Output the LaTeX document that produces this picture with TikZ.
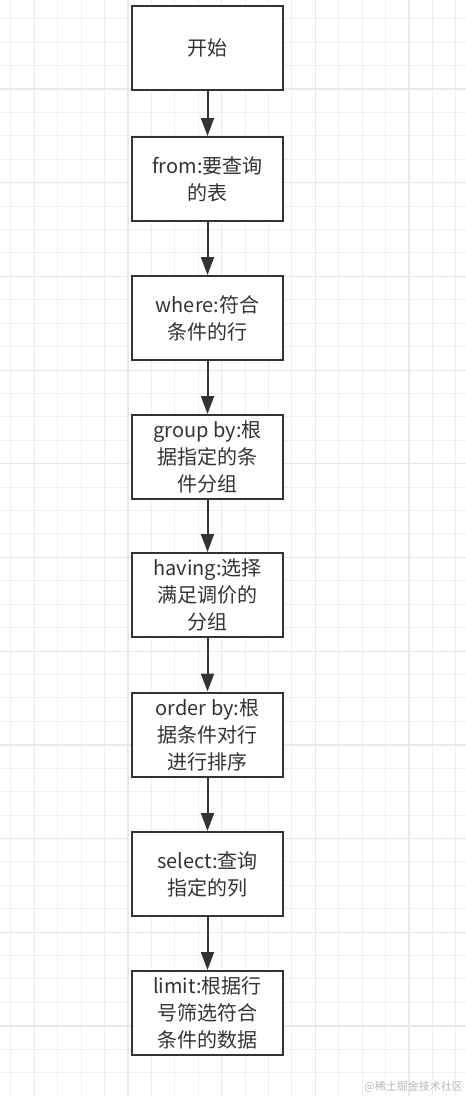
\documentclass[tikz,border=0pt]{standalone}
\usepackage{fontspec}
\setmainfont{Noto Sans CJK SC}
\usetikzlibrary{arrows.meta}
\definecolor{ink}{HTML}{333333}
\definecolor{gridminor}{HTML}{EFEFEF}
\definecolor{gridmajor}{HTML}{E9E9E9}
\definecolor{wm}{HTML}{B8B8B8}
\tikzset{
  stepbox/.style={draw=ink, line width=2pt, fill=white, minimum width=151pt, minimum height=84pt,
    align=center, font=\fontsize{20pt}{27pt}\selectfont, text=ink, inner sep=0pt},
  flow/.style={draw=ink, line width=2pt, -{Triangle[length=18pt,width=13pt]}}
}
\begin{document}
\begin{tikzpicture}[x=1pt,y=-1pt]
\useasboundingbox (0,0) rectangle (466,1096);
\fill[white] (0,0) rectangle (466,1096);
% grid
\foreach \i in {0,...,19} {
  \draw[gridminor, line width=1pt] ({10.9+23.42*\i},0) -- ({10.9+23.42*\i},1096);
}
\foreach \j in {0,...,46} {
  \draw[gridminor, line width=1pt] (0,{18.74+23.42*\j}) -- (466,{18.74+23.42*\j});
}
\foreach \i in {0,...,4} {
  \draw[gridmajor, line width=1.2pt] ({34.3+93.68*\i},0) -- ({34.3+93.68*\i},1096);
}
\foreach \j in {-1,...,11} {
  \draw[gridmajor, line width=1.2pt] (0,{89+93.7*\j}) -- (466,{89+93.7*\j});
}
% boxes
\node[stepbox] (n1) at (207.5,48) {开始};
\node[stepbox] (n2) at (207.5,179) {from:要查询\\的表};
\node[stepbox] (n3) at (207.5,318) {where:符合\\条件的行};
\node[stepbox] (n4) at (207.5,457) {group by:根\\据指定的条\\件分组};
\node[stepbox] (n5) at (207.5,595) {having:选择\\满足调价的\\分组};
\node[stepbox] (n6) at (207.5,734.5) {order by:根\\据条件对行\\进行排序};
\node[stepbox] (n7) at (207.5,874) {select:查询\\指定的列};
\node[stepbox] (n8) at (207.5,1013) {limit:根据行\\号筛选符合\\条件的数据};
% arrows
\draw[flow] (n1.south) -- (n2.north);
\draw[flow] (n2.south) -- (n3.north);
\draw[flow] (n3.south) -- (n4.north);
\draw[flow] (n4.south) -- (n5.north);
\draw[flow] (n5.south) -- (n6.north);
\draw[flow] (n6.south) -- (n7.north);
\draw[flow] (n7.south) -- (n8.north);
% watermark
\node[text=wm, font=\fontsize{11pt}{13pt}\selectfont, anchor=east, inner sep=0pt] (wm) at (463,1087) {@稀土掘金技术社区};
\end{tikzpicture}
\end{document}
